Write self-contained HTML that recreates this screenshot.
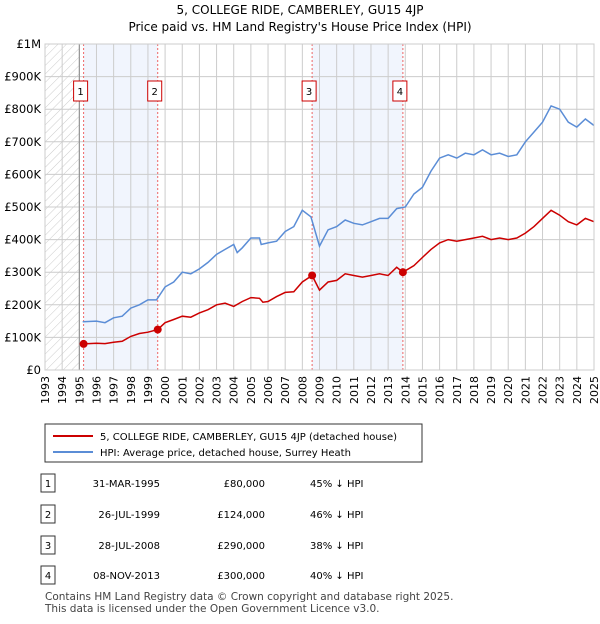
<!DOCTYPE html>
<html><head><meta charset="utf-8"><style>
body{margin:0;background:#fff;font-family:"DejaVu Sans","Liberation Sans",sans-serif;}
svg text{font-family:"DejaVu Sans","Liberation Sans",sans-serif;}
</style></head><body>
<svg id="c" width="600" height="620" xmlns="http://www.w3.org/2000/svg">
<defs><pattern id="hatch" width="6" height="6" patternUnits="userSpaceOnUse" patternTransform="rotate(45)"><line x1="0" y1="0" x2="0" y2="6" stroke="#ccc" stroke-width="1"/></pattern></defs>
<text x="300" y="14" text-anchor="middle" font-size="12">5, COLLEGE RIDE, CAMBERLEY, GU15 4JP</text>
<text x="300" y="31" text-anchor="middle" font-size="12">Price paid vs. HM Land Registry's House Price Index (HPI)</text>
<g id="plot"></g>
<g>
<rect x="45" y="424" width="377" height="38" fill="#fff" stroke="#333" stroke-width="1"/>
<line x1="53" y1="436" x2="93" y2="436" stroke="#cc0000" stroke-width="2"/>
<text x="100" y="440" font-size="10">5, COLLEGE RIDE, CAMBERLEY, GU15 4JP (detached house)</text>
<line x1="53" y1="452" x2="93" y2="452" stroke="#5b8dd6" stroke-width="2"/>
<text x="100" y="456" font-size="10">HPI: Average price, detached house, Surrey Heath</text>
</g>
<g id="table" font-size="10"></g>
<text x="45" y="600" font-size="10.5" fill="#444">Contains HM Land Registry data © Crown copyright and database right 2025.</text>
<text x="45" y="612" font-size="10.5" fill="#444">This data is licensed under the Open Government Licence v3.0.</text>
</svg>
<script>
const hpiYears=[1995.2,1996,1996.5,1997,1997.5,1998,1998.5,1999,1999.5,2000,2000.5,2001,2001.5,2002,2002.5,2003,2003.5,2004,2004.2,2004.5,2005,2005.5,2005.6,2006,2006.5,2007,2007.5,2008,2008.5,2009,2009.5,2010,2010.5,2011,2011.5,2012,2012.5,2013,2013.5,2014,2014.5,2015,2015.5,2016,2016.5,2017,2017.5,2018,2018.5,2019,2019.5,2020,2020.5,2021,2021.5,2022,2022.5,2023,2023.5,2024,2024.5,2025];
const hpiValues=[148,150,145,160,165,190,200,215,215,255,270,300,295,310,330,355,370,385,360,375,405,405,385,390,395,425,440,490,470,380,430,440,460,450,445,455,465,465,495,500,540,560,610,650,660,650,665,660,675,660,665,655,660,700,730,760,810,800,760,745,770,750];
const priceYears=[1995.25,1996,1996.5,1997,1997.5,1998,1998.5,1999,1999.57,2000,2000.5,2001,2001.5,2002,2002.5,2003,2003.5,2004,2004.5,2005,2005.5,2005.7,2006,2006.5,2007,2007.5,2008,2008.57,2009,2009.5,2010,2010.5,2011,2011.5,2012,2012.5,2013,2013.5,2013.86,2014.5,2015,2015.5,2016,2016.5,2017,2017.5,2018,2018.5,2019,2019.5,2020,2020.5,2021,2021.5,2022,2022.5,2023,2023.5,2024,2024.5,2025];
const priceValues=[80,82,81,85,88,103,112,116,124,145,155,165,162,175,185,200,205,195,210,222,220,208,210,225,238,240,270,290,245,270,275,295,290,285,290,295,290,315,300,320,345,370,390,400,395,400,405,410,400,405,400,405,420,440,465,490,475,455,445,465,455];
const saleLabels=["1","2","3","4"];
const saleDates=[1995.25,1999.57,2008.57,2013.86];
const salePrices=[80,124,290,300];
const saleDateText=["31-MAR-1995","26-JUL-1999","28-JUL-2008","08-NOV-2013"];
const salePriceText=["£80,000","£124,000","£290,000","£300,000"];
const saleHpiText=["45% ↓ HPI","46% ↓ HPI","38% ↓ HPI","40% ↓ HPI"];
const yTicks=[0,100,200,300,400,500,600,700,800,900,1000];
const yTickLabels=["£0","£100K","£200K","£300K","£400K","£500K","£600K","£700K","£800K","£900K","£1M"];
const xTicks=[];for(let y=1993;y<=2025;y++)xTicks.push(y);

const X0=45,X1=594,Y0=370,Y1=44;
const xs=v=>X0+(v-1993)/(2025-1993)*(X1-X0);
const ys=v=>Y0-v/1000*(Y0-Y1);
const NS="http://www.w3.org/2000/svg";
const plot=document.getElementById('plot');
function mk(tag,attrs,parent){const e=document.createElementNS(NS,tag);for(const k in attrs)e.setAttribute(k,attrs[k]);(parent||plot).appendChild(e);return e;}

let hatch=mk('rect',{x:X0,y:Y1,width:xs(1995)-X0,height:Y0-Y1,fill:'url(#hatch)'});


for(let i=0;i<4;i+=2){
 let r=mk('rect',{x:xs(saleDates[i]),y:Y1,width:xs(saleDates[i+1])-xs(saleDates[i]),height:Y0-Y1,fill:'#eef3fd',opacity:0.8});
 
 
}
xTicks.forEach(t=>{
 let l=mk('line',{x1:xs(t),x2:xs(t),y1:Y1,y2:Y0,stroke:'#ccc','stroke-width':1});
 
 
 let tx=mk('text',{x:0,y:0,'font-size':11,'text-anchor':'end',transform:`translate(${xs(t)+4},${Y0+6}) rotate(-90)`});
 tx.textContent=t;
 
 
});
yTicks.forEach((t,i)=>{
 let l=mk('line',{x1:X0,x2:X1,y1:ys(t),y2:ys(t),stroke:'#ccc','stroke-width':1});
 
 
 let tx=mk('text',{x:X0-4,y:ys(t)+4,'font-size':11.5,'text-anchor':'end'});
 tx.textContent=yTickLabels[i];
 
 
});
let ax=mk('line',{x1:xs(1995),x2:xs(1995),y1:Y1,y2:Y0,stroke:'#888','stroke-width':1});


saleDates.forEach((d,i)=>{
 let l=mk('line',{x1:xs(d),x2:xs(d),y1:Y1,y2:Y0,stroke:'#e66','stroke-width':1,'stroke-dasharray':'2,2'});
 
 
});
let hp=mk('path',{d:hpiYears.map((y,i)=>(i?'L':'M')+xs(y).toFixed(1)+','+ys(hpiValues[i]).toFixed(1)).join(''),fill:'none',stroke:'#5b8dd6','stroke-width':1.5});


let pp=mk('path',{d:priceYears.map((y,i)=>(i?'L':'M')+xs(y).toFixed(1)+','+ys(priceValues[i]).toFixed(1)).join(''),fill:'none',stroke:'#cc0000','stroke-width':1.5});


saleDates.forEach((d,i)=>{
 let c=mk('circle',{cx:xs(d),cy:ys(salePrices[i]),r:4,fill:'#cc0000'});
 
 
 let b=mk('rect',{x:xs(d)-10,y:81,width:14,height:20,fill:'#fff',stroke:'#cc0000'});
 
 
 let t=mk('text',{x:xs(d)-3,y:95,'font-size':10,'text-anchor':'middle'});
 t.textContent=saleLabels[i];
 
 
});
let fr=mk('rect',{x:X0,y:Y1,width:X1-X0,height:Y0-Y1,fill:'none',stroke:'#ccc'});



const tb=document.getElementById('table');
const rowY=[483,514,545,575];
saleLabels.forEach((s,i)=>{
 const y=rowY[i];
 let b=mk('rect',{x:41,y:y-9,width:14,height:18,fill:'#fff',stroke:'#333'},tb);
 
 
 let t=mk('text',{x:48,y:y+4,'text-anchor':'middle'},tb);t.textContent=s;
 
 
 let d=mk('text',{x:160,y:y+4,'text-anchor':'end'},tb);d.textContent=saleDateText[i];
 
 
 let p=mk('text',{x:265,y:y+4,'text-anchor':'end'},tb);p.textContent=salePriceText[i];
 
 
 let h=mk('text',{x:310,y:y+4},tb);h.textContent=saleHpiText[i];
 
 
});
</script>
</body></html>
